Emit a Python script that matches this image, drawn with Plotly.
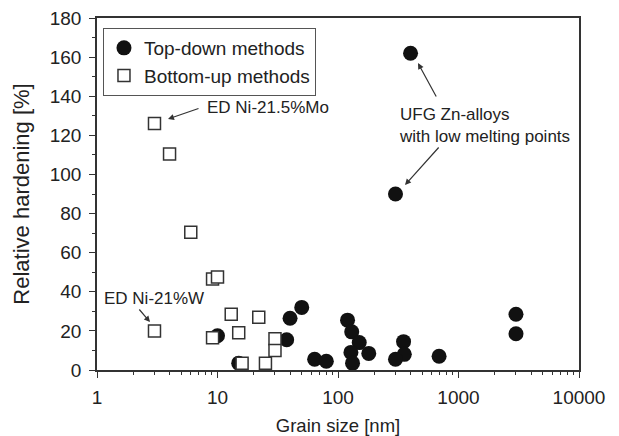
import plotly.graph_objects as go

# Top-down methods (filled circles)
td_grain = [400, 300, 40, 50, 37.5, 10, 15, 64, 80, 120, 130, 150, 128, 180, 132, 350, 355, 300, 690, 3000, 3000]
td_hard = [162, 90, 26.5, 32, 15.5, 17.5, 3.5, 5.5, 4.5, 25.5, 19.5, 14, 9, 8.5, 3.5, 14.5, 8, 5.5, 7, 28.5, 18.5]

# Bottom-up methods (open squares)
bu_grain = [3, 4, 6, 9.1, 10, 3, 13, 22, 15, 9.1, 30, 30, 16, 25]
bu_hard = [126, 110.5, 70.5, 46.5, 47.5, 20, 28.5, 27, 19, 16.5, 16, 10, 3.5, 3.5]

x_tickvals = [1, 10, 100, 1000, 10000]
x_ticktext = ["1", "10", "100", "1000", "10000"]
y_tickvals = list(range(0, 181, 20))

FONT = "Liberation Sans, Arial, sans-serif"
AX = "#333333"

fig = go.Figure()
fig.add_trace(go.Scatter(
    x=td_grain, y=td_hard, mode="markers", name="Top-down methods",
    marker=dict(symbol="circle", size=15, color="#111111", line=dict(width=0)),
))
fig.add_trace(go.Scatter(
    x=bu_grain, y=bu_hard, mode="markers", name="Bottom-up methods",
    marker=dict(symbol="square", size=12, color="white", line=dict(color="#333333", width=1.5)),
))

ann_font = dict(family=FONT, size=17, color="#222222")
annotations = [
    dict(text="ED Ni-21.5%Mo", xref="paper", yref="paper", x=0.224, y=0.747,
         xanchor="left", yanchor="middle", showarrow=False, font=ann_font),
    dict(text="ED Ni-21%W", xref="paper", yref="paper", x=0.0104, y=0.2045,
         xanchor="left", yanchor="middle", showarrow=False, font=ann_font),
    dict(text="UFG Zn-alloys<br>with low melting points", xref="paper", yref="paper",
         x=0.622, y=0.696, xanchor="left", yanchor="middle", align="left",
         showarrow=False, font=ann_font),
]
arrow_style = dict(showarrow=True, arrowhead=2, arrowsize=1, arrowwidth=1.2,
                   arrowcolor="#333333", xref="paper", yref="paper",
                   axref="pixel", ayref="pixel", text="", standoff=0)
for hx, hy, ax, ay in [(0.1473, 0.713, 32, -11), (0.110, 0.1364, -12, -14),
                       (0.666, 0.872, 19, 35), (0.639, 0.5256, 35, -39)]:
    annotations.append(dict(x=hx, y=hy, ax=ax, ay=ay, **arrow_style))

fig.update_layout(
    width=619, height=436,
    margin=dict(l=97, r=40, t=18, b=66),
    paper_bgcolor="white", plot_bgcolor="white",
    font=dict(family=FONT, color="#222222"),
    showlegend=True,
    legend=dict(x=0.0124, y=0.9716, xanchor="left", yanchor="top",
                bgcolor="white", bordercolor="#555555", borderwidth=1,
                font=dict(family=FONT, size=19, color="#222222"),
                itemsizing="trace", tracegroupgap=0),
    annotations=annotations,
)
fig.update_xaxes(
    type="log", range=[0, 4], automargin=False,
    tickvals=x_tickvals, ticktext=x_ticktext,
    ticks="outside", ticklen=6, tickwidth=1.3, tickcolor=AX,
    minor=dict(ticks="outside", ticklen=3.5, tickwidth=1.1, tickcolor=AX, dtick="D1", showgrid=False),
    showline=True, linecolor=AX, linewidth=1.5, mirror=True,
    showgrid=False, zeroline=False, ticklabelstandoff=3,
    tickfont=dict(family=FONT, size=19, color="#222222"),
    title=dict(text="Grain size [nm]", font=dict(family=FONT, size=18.5, color="#222222"), standoff=13),
)
fig.update_yaxes(
    range=[0, 180], automargin=False, tickvals=y_tickvals,
    ticks="outside", ticklen=6, tickwidth=1.3, tickcolor=AX,
    minor=dict(ticks="outside", ticklen=3.5, tickwidth=1.1, tickcolor=AX, dtick=10, showgrid=False),
    showline=True, linecolor=AX, linewidth=1.5, mirror=True,
    showgrid=False, zeroline=False, ticklabelstandoff=4,
    tickfont=dict(family=FONT, size=19, color="#222222"),
    title=dict(text="Relative hardening [%]", font=dict(family=FONT, size=22, color="#222222"), standoff=14),
)

fig.write_html("out.html")
